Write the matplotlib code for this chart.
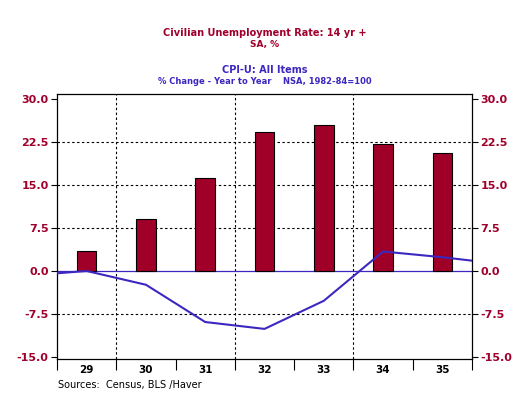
import matplotlib.pyplot as plt

years = ['29', '30', '31', '32', '33', '34', '35']
unemp = [3.4, 9.0, 16.3, 24.2, 25.4, 22.1, 20.5]

# CPI line runs from the left edge to the right edge of the plot
cpi_x = [-0.5, 0, 1, 2, 3, 4, 5, 6, 6.5]
cpi = [-0.4, 0.0, -2.4, -8.9, -10.1, -5.2, 3.4, 2.4, 1.8]

yticks = [-15.0, -7.5, 0.0, 7.5, 15.0, 22.5, 30.0]

red = '#a00028'
blue = '#3c28c0'
tcol = '#a0002c'

fig = plt.figure(figsize=(5.29, 3.97), dpi=100)
ax = fig.add_axes([57/529, 38/397, 415/529, 265/397])

pos = list(range(len(years)))
ax.bar(pos, unemp, width=0.33, color=red, edgecolor='black', linewidth=0.8, zorder=3)
ax.plot(cpi_x, cpi, color=blue, linewidth=1.5, zorder=4)
ax.axhline(0, color=blue, linewidth=0.9, zorder=2)

for y in [-7.5, 7.5, 15.0, 22.5]:
    ax.axhline(y, color='black', linewidth=0.8, linestyle=(0, (2.2, 2.2)), zorder=1)
for x in [0.5, 2.5, 4.5]:
    ax.axvline(x, color='black', linewidth=0.8, linestyle=(0, (2.2, 2.2)), zorder=1)

ax.set_xlim(-0.5, 6.5)
ax.set_ylim(-15.35, 30.87)

ax.set_yticks(yticks)
ax.set_yticklabels(['%.1f' % v for v in yticks])
ax.tick_params(axis='y', which='both', left=True, right=True, labelleft=True, labelright=True,
               direction='out', length=4, width=0.8, labelsize=8, labelcolor=tcol, pad=2)
for lab in ax.get_yticklabels():
    lab.set_fontweight('bold')

ax.set_xticks([i - 0.5 for i in range(len(years) + 1)])
ax.set_xticklabels([])
ax.set_xticks(pos, minor=True)
ax.set_xticklabels(years, minor=True, fontsize=7.5, fontweight='bold')
ax.tick_params(axis='x', which='major', direction='out', length=8, width=0.8)
ax.tick_params(axis='x', which='minor', length=0, pad=4)

for s in ax.spines.values():
    s.set_linewidth(0.9)

fig.text(0.5, 1 - 33/397, 'Civilian Unemployment Rate: 14 yr +', ha='center', va='center',
         color=tcol, fontsize=7, fontweight='bold')
fig.text(0.5, 1 - 44/397, 'SA, %', ha='center', va='center', color=tcol, fontsize=6.5, fontweight='bold')
fig.text(0.5, 1 - 70/397, 'CPI-U: All Items', ha='center', va='center', color=blue,
         fontsize=7, fontweight='bold')
fig.text(0.5, 1 - 81/397, '% Change - Year to Year    NSA, 1982-84=100', ha='center', va='center',
         color=blue, fontsize=6, fontweight='bold')
fig.text(58/529, 1 - 385/397, 'Sources:  Census, BLS /Haver', ha='left', va='center',
         color='black', fontsize=7)

fig.savefig('out.png', dpi=100)
